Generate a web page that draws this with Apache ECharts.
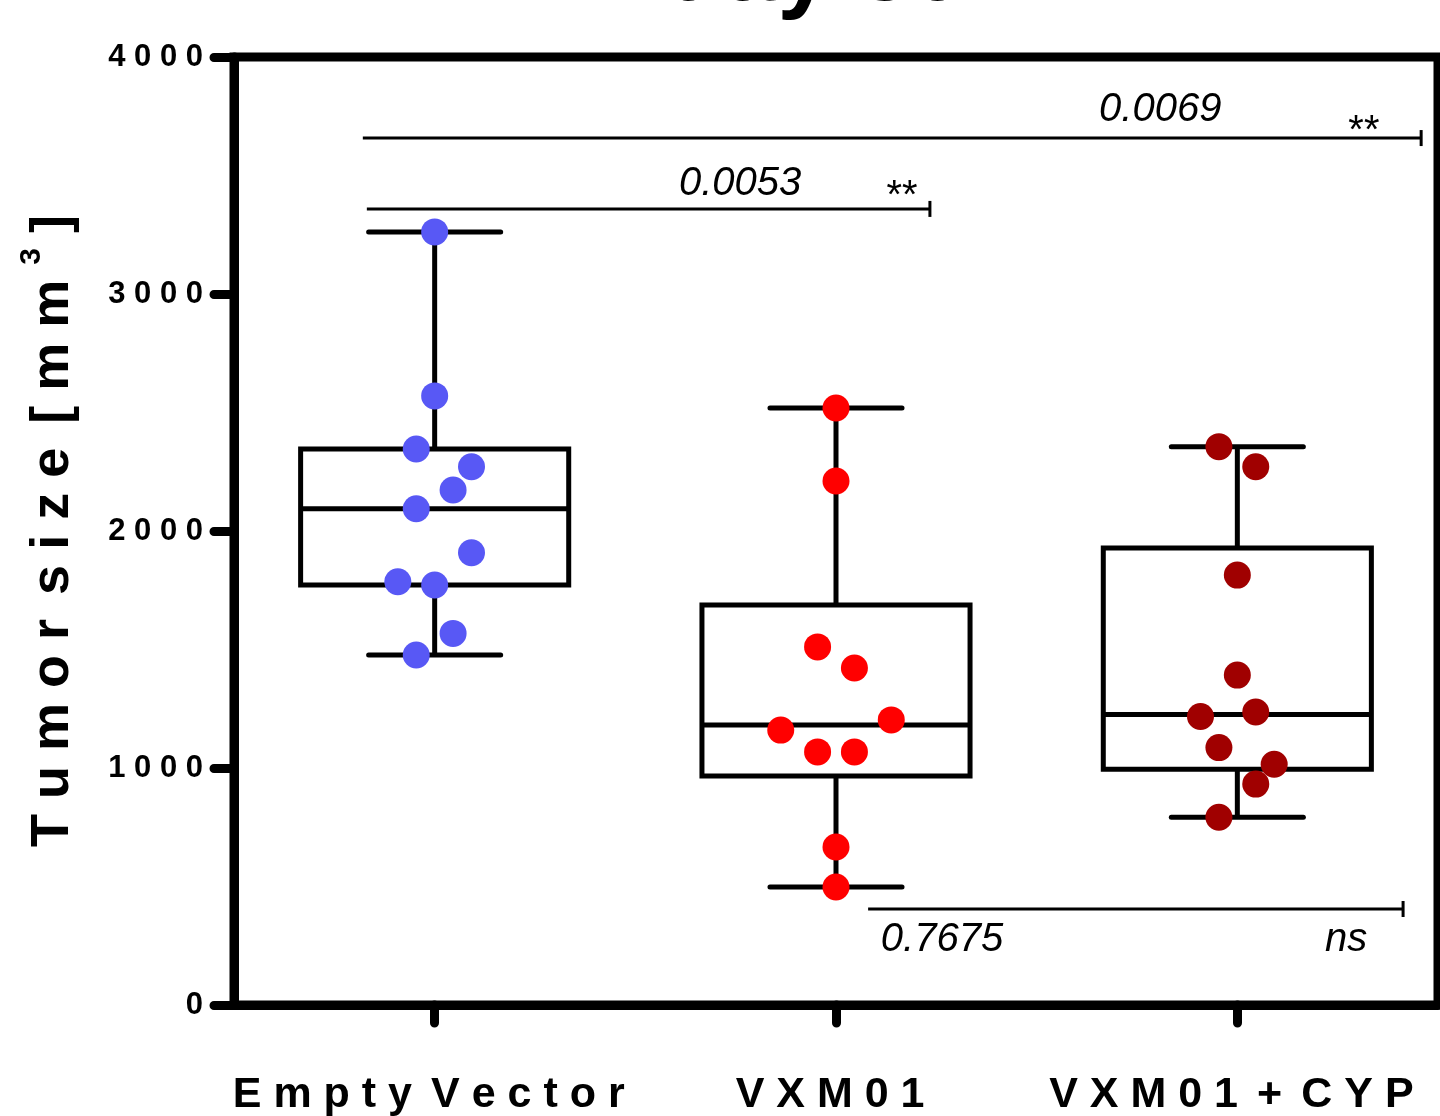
<!DOCTYPE html>
<html>
<head>
<meta charset="utf-8">
<style>
  html, body { margin: 0; padding: 0; background: #fff; }
  #main { width: 1440px; height: 1116px; }
</style>
<script src="https://cdn.jsdelivr.net/npm/echarts@6/dist/echarts.min.js"></script>
</head>
<body>
<div id="main"></div>
<script>
// groups
var categories = ['Empty Vector', 'VXM01', 'VXM01 + CYP'];
// tumor size per animal, day 30 [mm3]
var emptyVector = [3262, 2570, 2346, 2271, 2173, 2094, 1908, 1786, 1772, 1568, 1477];
var vxm01 = [2519, 2211, 1511, 1422, 1160, 1203, 1068, 1068, 667, 498];
var vxm01Cyp = [2356, 2271, 1814, 1392, 1217, 1236, 1086, 1016, 932, 792];
// dot column (jitter slot) of each point
var emptyVectorSlot = [0, 0, -1, 2, 1, -1, 2, -2, 0, 1, -1];
var vxm01Slot = [0, 0, -1, 1, -3, 3, -1, 1, 0, 0];
var vxm01CypSlot = [-1, 1, 0, 0, -2, 1, -1, 2, 1, -1];
// box: [min, Q1, median, Q3, max]
var boxStats = [
  [1477, 1772, 2094, 2346, 3262],
  [498, 966, 1181, 1688, 2519],
  [792, 995, 1226, 1928, 2356]
];
var yTicks = [0, 1000, 2000, 3000, 4000];
// significance brackets: [xStart, xEnd, y] (x in group index units)
var sigLines = [
  [-0.179, 2.458, 3658],
  [-0.169, 1.234, 3359],
  [1.080, 2.413, 405]
];
// p-values / stars: [text, x, y]
var sigTexts = [
  ['0.0069', 1.808, 3776],
  ['**', 2.311, 3684],
  ['0.0053', 0.761, 3464],
  ['**', 1.160, 3409],
  ['0.7675', 1.264, 274],
  ['ns', 2.271, 274]
];

var FONT = '"Liberation Sans", Arial, sans-serif';
var dotStep = 0.0459;

// wide tracking like the original export
function spaced(s) {
  return s.split(' ').map(function (w) { return w.split('').join(' '); }).join(' \u2006') + ' ';
}

function dots(values, slots, idx) {
  return values.map(function (v, k) { return [idx + slots[k] * dotStep, v]; });
}

function renderBox(params, api) {
  var i = api.value(0);
  var lo = api.coord([i, api.value(1)]);
  var q1 = api.coord([i, api.value(2)]);
  var md = api.coord([i, api.value(3)]);
  var q3 = api.coord([i, api.value(4)]);
  var hi = api.coord([i, api.value(5)]);
  var band = api.size([1, 0])[0];
  var cx = md[0];
  var bw = band * 0.668;
  var cw = band * 0.329;
  function ln(x1, y1, x2, y2, cap) {
    return { type: 'line', shape: { x1: x1, y1: y1, x2: x2, y2: y2 },
      style: { stroke: '#000', lineWidth: 5, lineCap: cap || 'butt' } };
  }
  return {
    type: 'group',
    children: [
      ln(cx, q3[1], cx, hi[1]),
      ln(cx, q1[1], cx, lo[1]),
      ln(cx - cw / 2, hi[1], cx + cw / 2, hi[1], 'round'),
      ln(cx - cw / 2, lo[1], cx + cw / 2, lo[1], 'round'),
      { type: 'rect', shape: { x: cx - bw / 2, y: q3[1], width: bw, height: q1[1] - q3[1] },
        style: { fill: '#fff', stroke: '#000', lineWidth: 5 } },
      ln(cx - bw / 2, md[1], cx + bw / 2, md[1])
    ]
  };
}

var myChart = echarts.init(document.getElementById('main'));
var option = {
  backgroundColor: '#fff',
  animation: false,
  grid: {
    left: 234,
    right: 2,
    top: 57,
    bottom: 111,
    outerBoundsMode: 'none',
    containLabel: false,
    show: true,
    borderColor: '#000',
    borderWidth: 9
  },
  xAxis: [{
    type: 'category',
    data: categories,
    boundaryGap: true,
    axisLine: { onZero: false, lineStyle: { color: '#000', width: 9, cap: 'round' } },
    axisTick: { show: true, alignWithLabel: true, interval: 0, length: 18, lineStyle: { color: '#000', width: 9, cap: 'round' } },
    axisLabel: {
      interval: 0,
      color: '#000',
      fontFamily: FONT,
      fontWeight: 'bold',
      fontSize: 43,
      margin: 69,
      formatter: function (v) { return spaced(v); }
    },
    splitLine: { show: false }
  }, {
    type: 'value',
    min: -0.5,
    max: 2.5,
    show: false
  }],
  yAxis: {
    type: 'value',
    min: 0,
    max: 4000,
    interval: 1000,
    axisLine: { show: true, onZero: false, lineStyle: { color: '#000', width: 9, cap: 'round' } },
    axisTick: { show: true, length: 20, lineStyle: { color: '#000', width: 9, cap: 'round' } },
    axisLabel: {
      color: '#000',
      fontFamily: FONT,
      fontWeight: 'bold',
      fontSize: 31,
      margin: 31,
      padding: [8, 0, 0, 0],
      customValues: yTicks,
      formatter: function (v) { return String(v).split('').join(' '); }
    },
    splitLine: { show: false },
    name: '{a|T u m o r \u2006s i z e \u2006[ m m }{sup|3}{a| ]}',
    nameLocation: 'middle',
    nameRotate: 90,
    nameGap: 145,
    nameTextStyle: {
      rich: {
        a: { fontFamily: FONT, fontWeight: 'bold', fontSize: 54, lineHeight: 72, color: '#000' },
        sup: { fontFamily: FONT, fontWeight: 'bold', fontSize: 30, lineHeight: 30, color: '#000', verticalAlign: 'top' }
      }
    }
  },
  series: [{
    type: 'custom',
    name: 'box',
    xAxisIndex: 0,
    renderItem: renderBox,
    encode: { x: 0, y: [1, 2, 3, 4, 5] },
    data: boxStats.map(function (s, i) { return [i].concat(s); }),
    z: 2
  }, {
    type: 'scatter',
    name: categories[0],
    xAxisIndex: 1,
    symbolSize: 27,
    itemStyle: { color: '#5858F5', opacity: 1 },
    data: dots(emptyVector, emptyVectorSlot, 0),
    z: 3
  }, {
    type: 'scatter',
    name: categories[1],
    xAxisIndex: 1,
    symbolSize: 27,
    itemStyle: { color: '#FF0000', opacity: 1 },
    data: dots(vxm01, vxm01Slot, 1),
    z: 3
  }, {
    type: 'scatter',
    name: categories[2],
    xAxisIndex: 1,
    symbolSize: 27,
    itemStyle: { color: '#A00000', opacity: 1 },
    data: dots(vxm01Cyp, vxm01CypSlot, 2),
    z: 3
  }]
};
myChart.setOption(option, true);

// brackets + p-values, placed through the axes
function px(x, y) {
  return myChart.convertToPixel({ xAxisIndex: 1, yAxisIndex: 0 }, [x, y]);
}
var elements = [];
sigLines.forEach(function (l) {
  var a = px(l[0], l[2]);
  var b = px(l[1], l[2]);
  elements.push({ type: 'line', shape: { x1: a[0], y1: a[1], x2: b[0], y2: b[1] },
    style: { stroke: '#000', lineWidth: 3 }, z: 10 });
  elements.push({ type: 'line', shape: { x1: b[0], y1: b[1] - 8, x2: b[0], y2: b[1] + 8 },
    style: { stroke: '#000', lineWidth: 3 }, z: 10 });
});
sigTexts.forEach(function (t) {
  var p = px(t[1], t[2]);
  elements.push({ type: 'text', x: p[0], y: p[1], z: 10,
    style: { text: t[0], fill: '#000', fontFamily: FONT, fontStyle: 'italic', fontSize: 40,
      textAlign: 'center', textVerticalAlign: 'middle' } });
});
// title, mostly above the page edge
elements.push({ type: 'text', x: 815, y: 22, z: 10,
  style: { text: 'day 30', fill: '#000', fontFamily: FONT, fontWeight: 'bold', fontSize: 96,
    textAlign: 'center', textVerticalAlign: 'bottom' } });
myChart.setOption({ graphic: elements });
</script>
</body>
</html>
